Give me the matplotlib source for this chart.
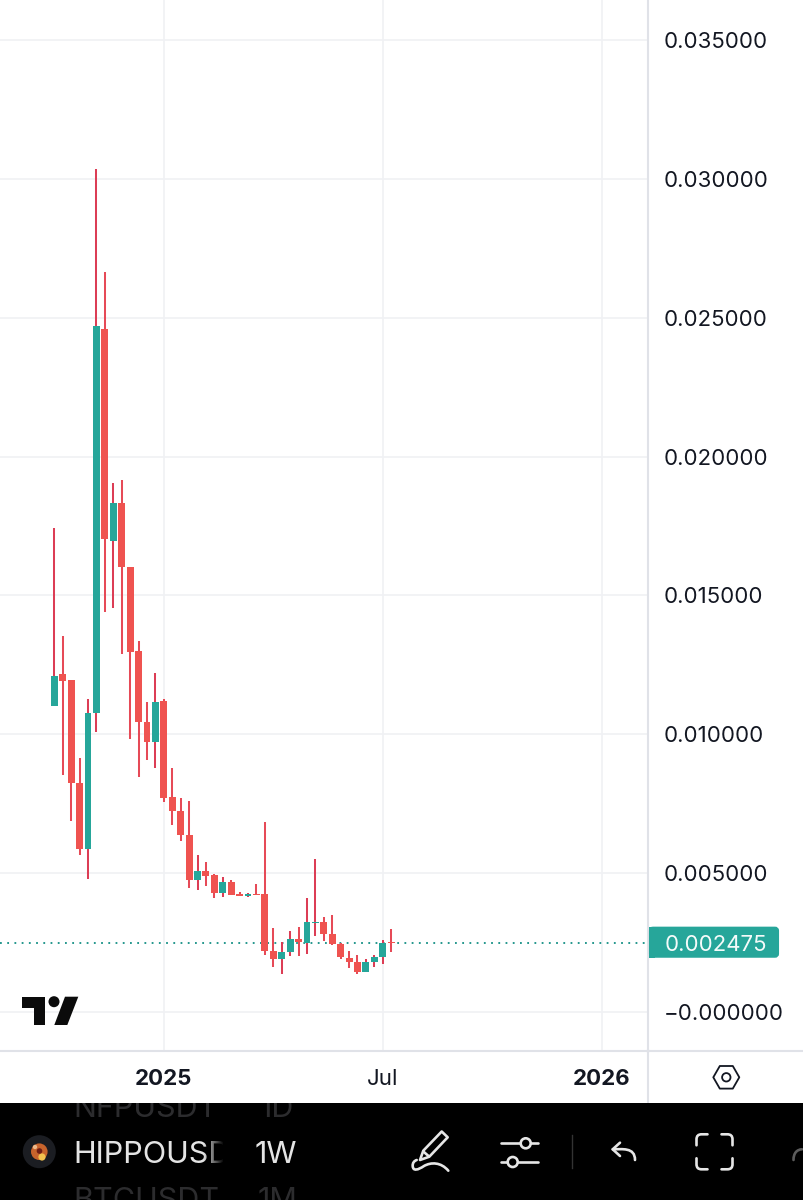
import matplotlib
matplotlib.use("Agg")
import matplotlib.pyplot as plt
import numpy as np
from matplotlib.patches import Circle, Polygon, Rectangle, FancyBboxPatch, PathPatch
from matplotlib.path import Path
from matplotlib.ticker import FixedLocator, FuncFormatter

# weekly candles
opens = [0.01102, 0.01217, 0.01196, 0.00825, 0.00587, 0.01077, 0.02460, 0.01696, 0.01833,
         0.01602, 0.01300, 0.01044, 0.00972, 0.01120, 0.00774, 0.00724, 0.00637, 0.00475,
         0.00508, 0.00493, 0.00429, 0.00468, 0.00425, 0.00418, 0.00425, 0.00425, 0.00220,
         0.00191, 0.00216, 0.00263, 0.00248, 0.00320, 0.00324, 0.00281, 0.00245, 0.00194,
         0.00180, 0.00144, 0.00180, 0.00198, 0.00252]
closes = [0.01210, 0.01192, 0.00825, 0.00587, 0.01077, 0.02470, 0.01703, 0.01833, 0.01602,
          0.01296, 0.01044, 0.00972, 0.01116, 0.00771, 0.00724, 0.00637, 0.00475, 0.00508,
          0.00490, 0.00429, 0.00468, 0.00421, 0.00418, 0.00425, 0.00421, 0.00220, 0.00191,
          0.00216, 0.00263, 0.00252, 0.00324, 0.00324, 0.00281, 0.00245, 0.00198, 0.00180,
          0.00144, 0.00180, 0.00198, 0.00248, 0.002475]
highs = [0.01743, 0.01354, 0.01196, 0.00915, 0.01127, 0.03036, 0.02665, 0.01905, 0.01916,
         0.01602, 0.01336, 0.01116, 0.01221, 0.01127, 0.00879, 0.00771, 0.00760, 0.00565,
         0.00540, 0.00497, 0.00486, 0.00475, 0.00432, 0.00429, 0.00461, 0.00684, 0.00302,
         0.00252, 0.00292, 0.00306, 0.00411, 0.00551, 0.00342, 0.00349, 0.00248, 0.00220,
         0.00205, 0.00191, 0.00205, 0.00259, 0.00299]
lows = [0.01102, 0.00853, 0.00688, 0.00565, 0.00479, 0.01008, 0.01440, 0.01455, 0.01289,
        0.00983, 0.00846, 0.00907, 0.00879, 0.00756, 0.00673, 0.00616, 0.00447, 0.00439,
        0.00454, 0.00411, 0.00414, 0.00421, 0.00418, 0.00414, 0.00421, 0.00205, 0.00162,
        0.00137, 0.00202, 0.00202, 0.00209, 0.00274, 0.00256, 0.00241, 0.00191, 0.00158,
        0.00137, 0.00144, 0.00162, 0.00173, 0.00216]

price_ticks = [0.0, 0.005, 0.010, 0.015, 0.020, 0.025, 0.030, 0.035]
time_ticks = [13, 39, 65]
time_labels = ["2025", "Jul", "2026"]
last_price = 0.002475

GREEN = "#26a69a"
RED = "#ef5350"
WICK_RED = "#e64a57"
WICK_GREEN = "#dc3d55"
GRID = "#f0f1f4"
BORDER = "#e0e2e8"
DARK = "#131722"
ICON = "#e6e6e6"


def draw_chart(fig):
    ax = fig.add_axes([0, 1 - 1051 / 1200, 647.7 / 804, 1051 / 1200])
    x = np.arange(len(opens))
    o, c = np.array(opens), np.array(closes)
    up = c >= o
    # wicks on this chart are red-ish on both candle colours
    ax.vlines(x, lows, highs, colors=[WICK_GREEN if u else WICK_RED for u in up],
              lw=1.45, zorder=3)
    ax.bar(x, np.abs(c - o), bottom=np.minimum(o, c), width=0.82,
           color=[GREEN if u else RED for u in up], zorder=4)
    ax.axhline(last_price, color="#128f84", lw=1.3, ls=(0, (1, 3)), zorder=2)

    ax.set_xlim(-6.457, 70.47)
    ax.set_ylim(-0.0014, 0.03644)
    ax.yaxis.set_major_locator(FixedLocator(price_ticks))
    ax.yaxis.set_major_formatter(FuncFormatter(
        lambda v, _: "\u22120.000000" if v == 0 else f"{v:.6f}"))
    ax.yaxis.tick_right()
    ax.tick_params(axis="y", length=0, pad=11.5, labelsize=16, labelcolor=DARK)
    for label in ax.get_yticklabels():
        label.set_ha("left")
        label.set_fontfamily("Inter")

    ax.set_xticks(time_ticks)
    ax.set_xticklabels(time_labels)
    ax.tick_params(axis="x", length=0, pad=13, labelsize=16, labelcolor=DARK)
    for label, text in zip(ax.get_xticklabels(), time_labels):
        label.set_fontfamily("Inter")
        label.set_fontweight("bold" if text.isdigit() else "normal")

    ax.grid(True, color=GRID, lw=1.2, zorder=0)
    ax.set_axisbelow(True)
    for side in ["top", "left"]:
        ax.spines[side].set_visible(False)
    for side in ["right", "bottom"]:
        ax.spines[side].set_color(BORDER)
        ax.spines[side].set_linewidth(1.5)
    return ax


def draw_logo(ov):
    ov.add_patch(Polygon([(22, 996.7), (44.7, 996.7), (44.7, 1025), (34.3, 1025),
                          (34.3, 1007.7), (22, 1007.7)], color="#0b0b0b", lw=0))
    ov.add_patch(Circle((54, 1001.7), 5.5, color="#0b0b0b", lw=0))
    ov.add_patch(Polygon([(65, 996.7), (78.3, 996.7), (67.3, 1025), (54.3, 1025)],
                         color="#0b0b0b", lw=0))


def draw_price_label(ov):
    ov.add_patch(FancyBboxPatch((650, 927.7), 128, 29, boxstyle="round,pad=0,rounding_size=3",
                                fc=GREEN, ec=GREEN, lw=1.5, zorder=5))
    ov.add_patch(Rectangle((648.7, 926.9), 6, 30.6, fc=GREEN, ec="none", zorder=5))
    ov.text(664.5, 943, f"{last_price:.6f}", color="#f4fbfa", fontsize=16, family="Inter",
            va="center_baseline", ha="left", zorder=6)


def draw_hex(ov):
    cx, cy = 726.3, 1077.3
    ov.add_patch(Polygon([(cx - 13, cy), (cx - 6.5, cy - 11.3), (cx + 6.5, cy - 11.3),
                          (cx + 13, cy), (cx + 6.5, cy + 11.3), (cx - 6.5, cy + 11.3)],
                         fc="none", ec=DARK, lw=1.3, joinstyle="round"))
    ov.add_patch(Circle((cx, cy), 4.2, fc="none", ec=DARK, lw=1.3))


def draw_toolbar(ov):
    clip = Rectangle((0, 1103), 804, 97, fc="black", ec="none", zorder=1)
    ov.add_patch(clip)

    # rows of the symbol list, cut off by the bar edges
    font = dict(family="Inter", fontsize=22, va="baseline", ha="left", zorder=2)
    rows = [(73, 1117, "NFPUSDT", "#2c2c2e"), (260, 1117, "1D", "#2c2c2e"),
            (73, 1209, "BTCUSDT", "#2c2c2e"), (258, 1209, "1M", "#2c2c2e")]
    for tx, ty, text, col in rows:
        t = ov.text(tx, ty, text, color=col, **font)
        t.set_clip_on(True)
        t.set_clip_path(clip)
    hippo = ov.text(73, 1163, "HIPPOUSDT", color="#e4e4e4", **font)
    cut = Rectangle((0, 1120), 223, 60, fc="none", ec="none")
    ov.add_patch(cut)
    hippo.set_clip_on(True)
    hippo.set_clip_path(cut)
    ov.text(255, 1163, "1W", color="#e4e4e4", **font)

    fade = np.zeros((1, 32, 4))
    fade[0, :, 3] = np.linspace(0, 1, 32)
    ov.imshow(fade, extent=(203, 224, 1180, 1120), aspect="auto", zorder=3)

    # coin badge
    ov.add_patch(Circle((39.3, 1151.7), 16.5, color="#1b1d22", lw=0, zorder=2))
    ov.add_patch(Circle((39.3, 1151.7), 8.3, color="#c8642c", lw=0, zorder=3))
    ov.add_patch(Circle((42, 1157), 3.6, color="#f2c14e", lw=0, zorder=4))
    ov.add_patch(Circle((39.5, 1151), 2.8, color="#6e1d14", lw=0, zorder=4))
    ov.add_patch(Circle((35, 1147), 2.2, color="#eeb98a", lw=0, zorder=4))

    line = dict(color=ICON, lw=1.9, solid_capstyle="round", zorder=2)

    # pen
    ov.add_patch(Polygon([(420, 1160), (423.3, 1150.7), (441.7, 1131.5), (447.7, 1137.3),
                          (429.3, 1156.7)], fc="none", ec=ICON, lw=1.9, joinstyle="round", zorder=2))
    ov.plot([423.3, 428.5], [1151.5, 1156], **line)
    squiggle = Path([(448.3, 1170.7), (441, 1162), (431, 1162), (424, 1166),
                     (418, 1170), (413, 1171.5), (412.7, 1166),
                     (412.5, 1163), (414, 1161), (416.7, 1160)],
                    [Path.MOVETO] + [Path.CURVE4] * 9)
    ov.add_patch(PathPatch(squiggle, fc="none", ec=ICON, lw=1.9, capstyle="round", zorder=2))

    # sliders
    ov.plot([501, 537.7], [1143.3, 1143.3], **line)
    ov.plot([501, 537.7], [1162, 1162], **line)
    ov.add_patch(Circle((525.7, 1143.3), 5.0, fc="black", ec=ICON, lw=1.9, zorder=3))
    ov.add_patch(Circle((512.7, 1162), 5.0, fc="black", ec=ICON, lw=1.9, zorder=3))
    ov.plot([571.7, 571.7], [1135, 1167.7], color="#333333", lw=1.0, zorder=2)

    # undo
    ov.plot([620, 612.7, 620], [1142.7, 1149.3, 1156], **line)
    undo = Path([(612.7, 1149.3), (622, 1149.3), (635, 1147), (635, 1160)],
                [Path.MOVETO, Path.CURVE4, Path.CURVE4, Path.CURVE4])
    ov.add_patch(PathPatch(undo, fc="none", ec=ICON, lw=1.9, capstyle="round", zorder=2))

    # fullscreen corners
    l, r, t, b, s, q = 696.5, 732.5, 1134.3, 1169.3, 11, 5
    corners = [[(l + s, t), (l + q, t), (l, t), (l, t + q), (l, t + s)],
               [(r - s, t), (r - q, t), (r, t), (r, t + q), (r, t + s)],
               [(l + s, b), (l + q, b), (l, b), (l, b - q), (l, b - s)],
               [(r - s, b), (r - q, b), (r, b), (r, b - q), (r, b - s)]]
    codes = [Path.MOVETO, Path.LINETO, Path.CURVE3, Path.CURVE3, Path.LINETO]
    for pts in corners:
        ov.add_patch(PathPatch(Path(pts, codes), fc="none", ec=ICON, lw=1.9,
                               capstyle="round", zorder=2))

    # next icon, mostly off screen
    arc = Path([(793.5, 1160), (793.5, 1153), (797, 1149.5), (802, 1149.3)],
               [Path.MOVETO, Path.CURVE4, Path.CURVE4, Path.CURVE4])
    ov.add_patch(PathPatch(arc, fc="none", ec="#5c5c5c", lw=1.9, capstyle="round", zorder=2))


def main():
    fig = plt.figure(figsize=(8.04, 12), dpi=100, facecolor="white")
    draw_chart(fig)

    # overlay in pixel coordinates for the app furniture around the chart
    ov = fig.add_axes([0, 0, 1, 1], facecolor="none")
    ov.axis("off")
    ov.plot([647.7, 647.7], [1051, 1103], color=BORDER, lw=1.5, zorder=1)
    ov.plot([647.7, 804], [1051, 1051], color=BORDER, lw=1.5, zorder=1)
    draw_logo(ov)
    draw_price_label(ov)
    draw_hex(ov)
    draw_toolbar(ov)
    ov.set_xlim(0, 804)
    ov.set_ylim(1200, 0)

    fig.savefig("out.png", dpi=100)


if __name__ == "__main__":
    main()
